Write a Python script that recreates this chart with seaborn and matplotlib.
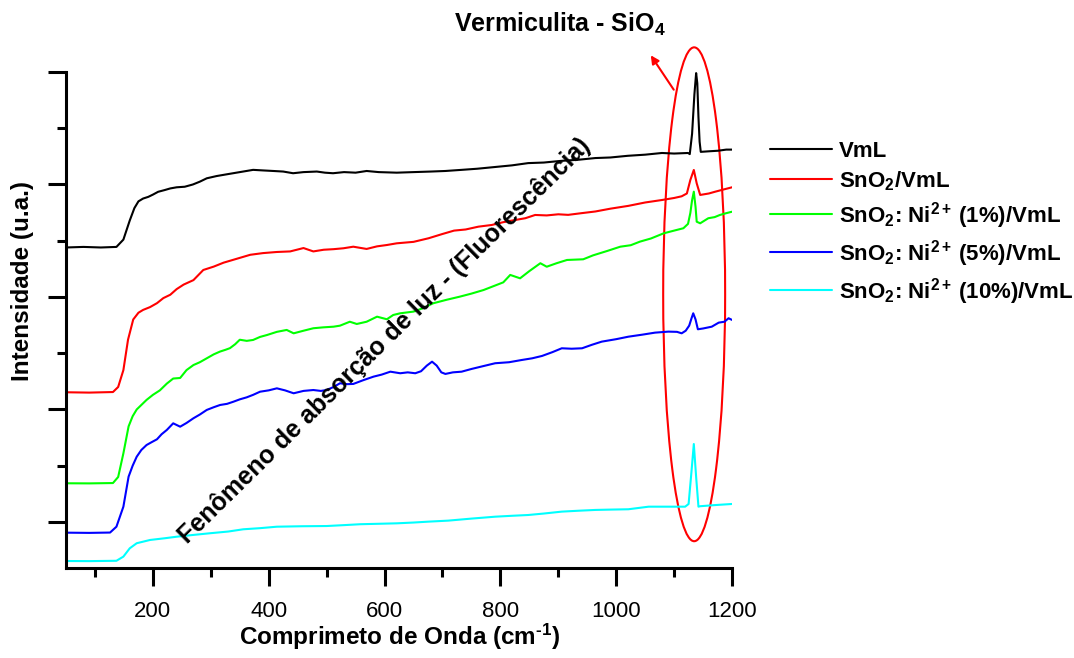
import seaborn as sns
import matplotlib.pyplot as plt
from matplotlib.patches import Ellipse

# wavelength (cm-1) and intensity (u.a.)
x_vml = [50, 80, 110, 137, 149, 160, 168, 175, 183, 192, 200, 209, 220, 230, 241, 255, 269, 281, 293, 310,
         327, 350, 373, 390, 408, 425, 442, 460, 483, 497, 511, 530, 550, 569, 590, 621, 650, 680, 705, 733,
         760, 790, 820, 848, 875, 905, 935, 964, 990, 1020, 1050, 1079, 1100, 1124, 1127, 1131, 1135, 1138,
         1140, 1142, 1144, 1146, 1160, 1176, 1190, 1200]
y_vml = [3.44, 3.445, 3.44, 3.445, 3.51, 3.68, 3.79, 3.85, 3.875, 3.89, 3.91, 3.935, 3.95, 3.965, 3.975, 3.98,
         4.00, 4.025, 4.055, 4.075, 4.09, 4.11, 4.13, 4.125, 4.12, 4.115, 4.10, 4.11, 4.115, 4.105, 4.10, 4.11,
         4.105, 4.12, 4.11, 4.105, 4.11, 4.115, 4.12, 4.13, 4.14, 4.155, 4.17, 4.19, 4.195, 4.21, 4.22, 4.235,
         4.24, 4.255, 4.265, 4.28, 4.275, 4.28, 4.27, 4.45, 4.80, 4.99, 4.90, 4.60, 4.38, 4.29, 4.295, 4.30,
         4.31, 4.31]

x_sno2 = [50, 90, 131, 140, 149, 157, 166, 175, 183, 195, 207, 218, 230, 241, 253, 270, 287, 305, 322, 345,
          368, 390, 414, 437, 460, 477, 495, 512, 529, 546, 569, 587, 604, 621, 650, 676, 700, 720, 740, 762,
          785, 805, 825, 843, 860, 880, 900, 917, 940, 964, 990, 1021, 1050, 1079, 1100, 1113, 1122, 1128,
          1134, 1139, 1145, 1160, 1171, 1185, 1200]
y_sno2 = [2.153, 2.15, 2.155, 2.20, 2.35, 2.62, 2.80, 2.86, 2.885, 2.91, 2.945, 2.99, 3.02, 3.07, 3.11, 3.15,
          3.24, 3.27, 3.305, 3.34, 3.375, 3.39, 3.40, 3.405, 3.435, 3.405, 3.42, 3.425, 3.433, 3.447, 3.427,
          3.45, 3.462, 3.477, 3.49, 3.522, 3.56, 3.59, 3.60, 3.625, 3.64, 3.665, 3.684, 3.70, 3.729, 3.725,
          3.735, 3.73, 3.745, 3.76, 3.785, 3.81, 3.84, 3.862, 3.88, 3.895, 3.92, 4.04, 4.129, 4.01, 3.907,
          3.92, 3.936, 3.955, 3.975]

x_ni1 = [50, 90, 131, 140, 149, 158, 165, 172, 180, 189, 200, 212, 224, 235, 247, 258, 270, 281, 293, 305,
         316, 325, 333, 342, 350, 362, 373, 385, 397, 414, 431, 443, 460, 477, 494, 512, 523, 540, 552, 569,
         587, 604, 615, 627, 650, 666, 684, 707, 730, 750, 771, 790, 805, 817, 834, 850, 869, 880, 897, 915,
         943, 960, 985, 1007, 1025, 1041, 1060, 1082, 1100, 1116, 1124, 1128, 1131, 1134, 1137, 1139, 1145,
         1159, 1170, 1179, 1190, 1200]
y_ni1 = [1.344, 1.343, 1.346, 1.40, 1.61, 1.85, 1.94, 2.00, 2.04, 2.085, 2.13, 2.17, 2.23, 2.275, 2.28, 2.35,
         2.395, 2.42, 2.455, 2.49, 2.515, 2.53, 2.545, 2.58, 2.62, 2.61, 2.618, 2.645, 2.662, 2.69, 2.707,
         2.677, 2.70, 2.722, 2.73, 2.736, 2.745, 2.78, 2.76, 2.78, 2.825, 2.802, 2.84, 2.855, 2.87, 2.90,
         2.944, 2.975, 3.003, 3.03, 3.062, 3.10, 3.13, 3.196, 3.166, 3.23, 3.30, 3.269, 3.30, 3.329, 3.335,
         3.37, 3.41, 3.447, 3.46, 3.492, 3.52, 3.566, 3.59, 3.611, 3.65, 3.747, 3.86, 3.936, 3.80, 3.669,
         3.655, 3.70, 3.71, 3.729, 3.745, 3.758]

x_ni5 = [50, 90, 126, 137, 149, 158, 165, 172, 180, 189, 198, 207, 215, 224, 235, 247, 258, 270, 281, 293,
         305, 316, 328, 339, 350, 362, 373, 385, 400, 414, 428, 443, 460, 477, 490, 500, 512, 523, 535, 546,
         563, 581, 595, 610, 627, 640, 653, 663, 673, 682, 690, 698, 705, 718, 733, 750, 770, 791, 815, 837,
         855, 872, 890, 906, 923, 941, 958, 975, 1000, 1021, 1045, 1067, 1090, 1105, 1113, 1120, 1126, 1130,
         1133, 1137, 1141, 1150, 1165, 1177, 1187, 1194, 1200]
y_ni5 = [0.905, 0.903, 0.906, 0.958, 1.136, 1.403, 1.50, 1.58, 1.64, 1.684, 1.71, 1.735, 1.78, 1.818, 1.877,
         1.847, 1.88, 1.922, 1.955, 1.996, 2.02, 2.04, 2.05, 2.069, 2.09, 2.108, 2.13, 2.158, 2.17, 2.188,
         2.17, 2.144, 2.165, 2.173, 2.165, 2.173, 2.20, 2.233, 2.225, 2.227, 2.26, 2.292, 2.31, 2.336, 2.322,
         2.33, 2.322, 2.34, 2.39, 2.425, 2.39, 2.33, 2.316, 2.33, 2.336, 2.36, 2.385, 2.411, 2.42, 2.44,
         2.455, 2.476, 2.51, 2.544, 2.54, 2.544, 2.575, 2.603, 2.625, 2.647, 2.665, 2.683, 2.692, 2.69,
         2.677, 2.70, 2.745, 2.81, 2.855, 2.80, 2.713, 2.72, 2.736, 2.772, 2.78, 2.811, 2.796]

x_ni10 = [50, 90, 137, 149, 160, 172, 195, 220, 241, 270, 299, 330, 356, 385, 414, 457, 500, 530, 558, 590,
          621, 650, 676, 710, 750, 791, 820, 848, 875, 906, 935, 964, 990, 1021, 1056, 1090, 1119, 1125,
          1130, 1134, 1138, 1142, 1145, 1170, 1200]
y_ni10 = [0.653, 0.652, 0.655, 0.692, 0.766, 0.811, 0.84, 0.855, 0.869, 0.885, 0.90, 0.915, 0.935, 0.945,
          0.958, 0.962, 0.964, 0.972, 0.98, 0.984, 0.988, 0.995, 1.003, 1.012, 1.03, 1.047, 1.055, 1.062,
          1.075, 1.092, 1.10, 1.107, 1.11, 1.113, 1.136, 1.136, 1.136, 1.16, 1.45, 1.693, 1.40, 1.136, 1.14,
          1.15, 1.16]

series = [
    (x_vml, y_vml, "VmL", "black"),
    (x_sno2, y_sno2, "SnO$_2$/VmL", "#ff0000"),
    (x_ni1, y_ni1, "SnO$_2$: Ni$^{2+}\\,$(1%)/VmL", "#00ff00"),
    (x_ni5, y_ni5, "SnO$_2$: Ni$^{2+}\\,$(5%)/VmL", "#0000ff"),
    (x_ni10, y_ni10, "SnO$_2$: Ni$^{2+}\\,$(10%)/VmL", "#00ffff"),
]

sns.set_style("ticks")
plt.rcParams['font.family'] = ['Liberation Sans', 'DejaVu Sans']
plt.rcParams['mathtext.fontset'] = 'custom'
plt.rcParams['mathtext.rm'] = 'Liberation Sans:bold'
plt.rcParams['mathtext.bf'] = 'Liberation Sans:bold'
plt.rcParams['mathtext.default'] = 'bf'
for key in ['text.color', 'axes.labelcolor', 'xtick.color', 'ytick.color', 'axes.edgecolor']:
    plt.rcParams[key] = 'black'

fig = plt.figure(figsize=(10.74, 6.58), dpi=100)
ax = fig.add_axes([0.0615, 0.1368, 0.6201, 0.7538])

for xs, ys, label, color in series:
    sns.lineplot(x=xs, y=ys, ax=ax, color=color, lw=1.5, label=label, estimator=None)

ax.set_xlim(50, 1200)
ax.set_ylim(0.591, 5.0)
ax.set_xticks([200, 400, 600, 800, 1000, 1200])
ax.set_xticks(range(100, 1200, 200), minor=True)
ax.set_yticks([1, 2, 3, 4, 5])
ax.set_yticks([1.5, 2.5, 3.5, 4.5], minor=True)
ax.set_yticklabels([])
ax.tick_params(axis='both', which='major', direction='out', length=13, width=2.2, labelsize=16, pad=11)
ax.tick_params(axis='both', which='minor', direction='out', length=6.5, width=2.2)
for side in ['top', 'right']:
    ax.spines[side].set_visible(False)
for side in ['left', 'bottom']:
    ax.spines[side].set_linewidth(2.2)

ax.set_xlabel("Comprimeto de Onda (cm$^{\\text{-1}}$)", fontsize=17.5, fontweight='bold')
ax.xaxis.label.set_va('center')
ax.xaxis.set_label_coords(0.5015, -0.139)
ax.set_ylabel("Intensidade (u.a.)", fontsize=17.5, fontweight='bold')
ax.yaxis.label.set_va('center')
ax.yaxis.set_label_coords(-0.066, 0.579)

# highlight of the SiO4 band
ax.add_patch(Ellipse((1134.6, 3.024), width=107, height=4.39, fill=False,
                     edgecolor='#ff0000', lw=1.5, clip_on=False))
ax.annotate("", xy=(1057, 5.169), xytext=(1102, 4.822), annotation_clip=False,
            arrowprops=dict(arrowstyle='-|>', color='#ff0000', lw=1.5, mutation_scale=12))
fig.text(560 / 1074, 1 - 24 / 658, "Vermiculita - SiO$_4$", ha='center', va='center',
         fontsize=18, fontweight='bold')

ax.text(600, 2.615, "Fenômeno de absorção de luz - (Fluorescência)", rotation=44.5,
        rotation_mode='anchor', ha='center', va='center', fontsize=18, fontweight='bold')

ax.legend(loc='upper left', bbox_to_anchor=(770 / 1074, 1 - 141 / 658), bbox_transform=fig.transFigure,
          frameon=False, prop=dict(weight='bold', size=16), handlelength=2.8, handletextpad=0.3,
          borderpad=0, borderaxespad=0, labelspacing=0.32)

fig.savefig("out.png", dpi=100)
